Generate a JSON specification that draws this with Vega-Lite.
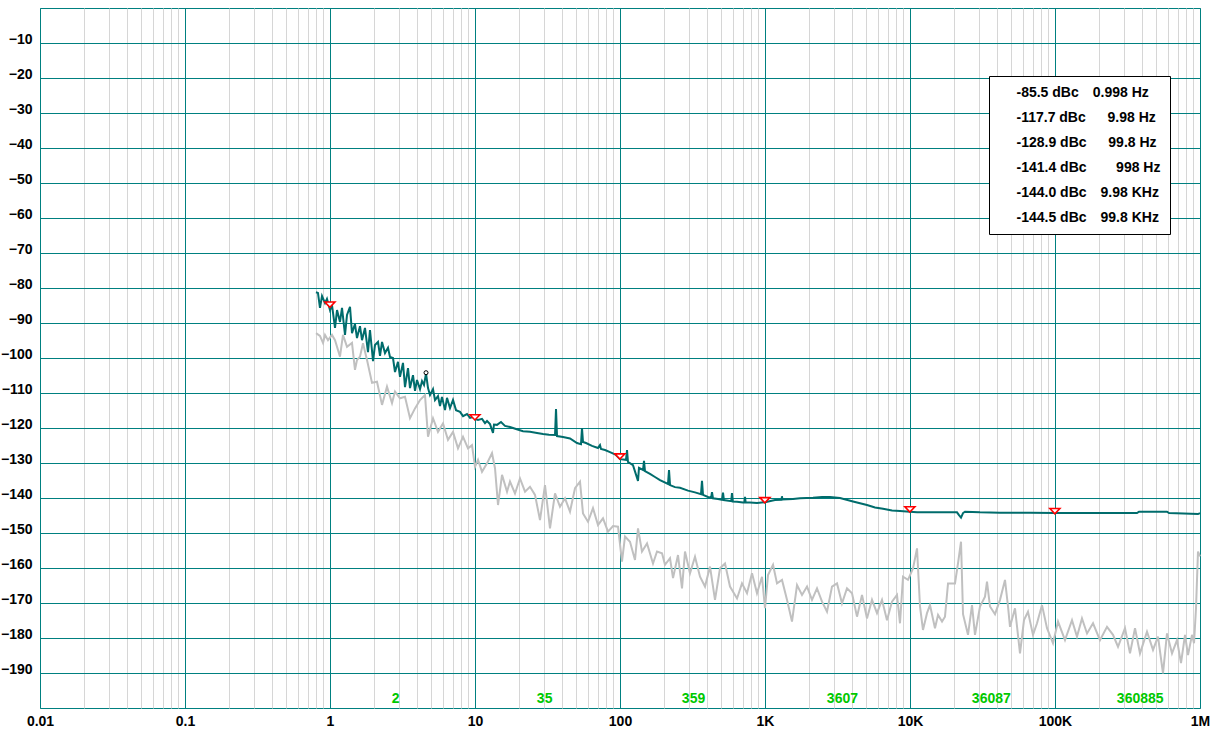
{
  "$schema": "https://vega.github.io/schema/vega-lite/v6.json",
  "width": 1160,
  "height": 700,
  "autosize": {"type": "none"},
  "padding": {"left": 40, "top": 8, "right": 16, "bottom": 23},
  "background": "white",
  "config": {
    "view": {"stroke": "#008080", "strokeWidth": 1},
    "font": "Liberation Sans",
    "legend": {"labelFont": "Liberation Sans"},
    "axisY": {
      "grid": true, "gridColor": "#008080", "gridWidth": 1, "gridOpacity": 1,
      "ticks": false, "tickSize": 0, "domain": false,
      "labelPadding": 8, "labelFont": "Liberation Sans", "labelFontSize": 14, "labelFontWeight": "bold", "labelColor": "black",
      "labelBaseline": "alphabetic", "labelOverlap": false
    }
  },
  "datasets": {
    "grey": [
      {"f":0.801,"db":-92.9},{"f":0.853,"db":-93.7},{"f":0.895,"db":-95.7},{"f":0.924,"db":-93.4},{"f":0.969,"db":-94.9},{"f":1.032,"db":-93.4},{"f":1.083,"db":-94.9},{"f":1.172,"db":-99.6},{"f":1.229,"db":-93.4},{"f":1.31,"db":-96.8},{"f":1.418,"db":-95.7},{"f":1.487,"db":-103.4},{"f":1.535,"db":-100.6},{"f":1.61,"db":-99.6},{"f":1.689,"db":-95.8},{"f":1.8,"db":-100.6},{"f":1.949,"db":-107.1},{"f":2.109,"db":-106.8},{"f":2.284,"db":-113.4},{"f":2.472,"db":-108.2},{"f":2.677,"db":-112.9},{"f":2.807,"db":-109.6},{"f":3.039,"db":-111.5},{"f":3.29,"db":-111.1},{"f":3.563,"db":-117.2},{"f":3.857,"db":-114.4},{"f":4.176,"db":-112.0},{"f":4.52,"db":-110.6},{"f":4.742,"db":-122.5},{"f":5.133,"db":-117.2},{"f":5.556,"db":-121.1},{"f":6.016,"db":-118.7},{"f":6.512,"db":-123.4},{"f":7.052,"db":-121.1},{"f":7.635,"db":-125.8},{"f":8.266,"db":-122.5},{"f":8.95,"db":-125.8},{"f":9.535,"db":-124.9},{"f":10,"db":-131.1},{"f":10.49,"db":-129.1},{"f":11.18,"db":-132.5},{"f":12.1,"db":-130.1},{"f":13.1,"db":-127.2},{"f":13.74,"db":-131.5},{"f":14.41,"db":-142.0},{"f":15.36,"db":-133.4},{"f":16.63,"db":-138.2},{"f":17.43,"db":-135.3},{"f":18.87,"db":-138.7},{"f":20.43,"db":-134.4},{"f":22.13,"db":-138.2},{"f":23.95,"db":-136.8},{"f":25.93,"db":-139.1},{"f":28.07,"db":-146.3},{"f":30.39,"db":-136.3},{"f":32.9,"db":-148.7},{"f":35.63,"db":-138.7},{"f":38.57,"db":-142.5},{"f":41.76,"db":-140.1},{"f":45.2,"db":-143.9},{"f":48.95,"db":-137.2},{"f":52.99,"db":-135.3},{"f":55.57,"db":-144.4},{"f":60.16,"db":-146.8},{"f":65.12,"db":-142.9},{"f":70.51,"db":-147.7},{"f":76.35,"db":-145.8},{"f":82.66,"db":-149.6},{"f":89.5,"db":-148.0},{"f":96.87,"db":-148.2},{"f":103.2,"db":-158.2},{"f":108.3,"db":-151.0},{"f":117.2,"db":-152.5},{"f":126.9,"db":-157.7},{"f":133.1,"db":-148.7},{"f":141.8,"db":-155.3},{"f":153.6,"db":-153.0},{"f":168.9,"db":-158.7},{"f":180,"db":-155.3},{"f":194.9,"db":-155.8},{"f":204.3,"db":-159.1},{"f":221.3,"db":-157.2},{"f":232.1,"db":-162.9},{"f":251.2,"db":-156.3},{"f":267.7,"db":-165.8},{"f":280.7,"db":-155.3},{"f":303.9,"db":-161.5},{"f":329,"db":-156.8},{"f":356.3,"db":-162.5},{"f":385.7,"db":-165.3},{"f":417.6,"db":-159.6},{"f":452,"db":-169.1},{"f":489.5,"db":-160.1},{"f":529.9,"db":-158.7},{"f":573.6,"db":-165.3},{"f":641.2,"db":-168.7},{"f":694,"db":-164.4},{"f":751.4,"db":-167.2},{"f":813.5,"db":-161.5},{"f":880.8,"db":-167.2},{"f":953.4,"db":-162.5},{"f":1000,"db":-171.5},{"f":1049,"db":-162.0},{"f":1136,"db":-159.1},{"f":1210,"db":-164.4},{"f":1310,"db":-163.4},{"f":1418,"db":-169.1},{"f":1535,"db":-175.3},{"f":1663,"db":-164.9},{"f":1800,"db":-167.7},{"f":1949,"db":-165.3},{"f":2109,"db":-169.1},{"f":2284,"db":-165.8},{"f":2473,"db":-169.6},{"f":2677,"db":-172.5},{"f":2898,"db":-165.3},{"f":3138,"db":-164.4},{"f":3396,"db":-170.1},{"f":3677,"db":-165.8},{"f":3981,"db":-167.2},{"f":4310,"db":-173.9},{"f":4667,"db":-167.7},{"f":5051,"db":-174.4},{"f":5469,"db":-169.1},{"f":5921,"db":-172.9},{"f":6411,"db":-169.1},{"f":6940,"db":-174.9},{"f":7515,"db":-169.6},{"f":8135,"db":-167.7},{"f":8531,"db":-175.8},{"f":8949,"db":-162.5},{"f":9687,"db":-163.4},{"f":10490,"db":-160.1},{"f":11180,"db":-154.4},{"f":11720,"db":-171.0},{"f":12290,"db":-177.7},{"f":13100,"db":-172.9},{"f":13740,"db":-170.6},{"f":14870,"db":-177.2},{"f":15610,"db":-173.4},{"f":16630,"db":-175.3},{"f":17430,"db":-173.9},{"f":18290,"db":-164.4},{"f":20430,"db":-164.4},{"f":21430,"db":-158.7},{"f":22480,"db":-152.5},{"f":23210,"db":-173.2},{"f":25120,"db":-179.1},{"f":26770,"db":-170.6},{"f":28070,"db":-179.1},{"f":30390,"db":-171.0},{"f":32900,"db":-168.2},{"f":33960,"db":-163.9},{"f":35630,"db":-171.0},{"f":38570,"db":-173.2},{"f":41760,"db":-169.1},{"f":45200,"db":-163.4},{"f":47420,"db":-171.0},{"f":48950,"db":-176.8},{"f":52990,"db":-171.5},{"f":57360,"db":-184.4},{"f":61120,"db":-174.9},{"f":65120,"db":-172.5},{"f":70510,"db":-179.1},{"f":75150,"db":-175.8},{"f":81350,"db":-170.6},{"f":88080,"db":-177.2},{"f":96870,"db":-181.5},{"f":104900,"db":-175.3},{"f":117200,"db":-180.6},{"f":131000,"db":-174.9},{"f":141800,"db":-179.6},{"f":153500,"db":-174.4},{"f":166300,"db":-178.7},{"f":182900,"db":-175.8},{"f":204300,"db":-180.6},{"f":228400,"db":-176.8},{"f":251200,"db":-179.1},{"f":272000,"db":-182.5},{"f":303900,"db":-177.2},{"f":329000,"db":-184.4},{"f":356300,"db":-177.2},{"f":385700,"db":-184.4},{"f":431000,"db":-178.2},{"f":474200,"db":-183.4},{"f":513300,"db":-179.6},{"f":555700,"db":-190.1},{"f":592100,"db":-178.7},{"f":641200,"db":-184.4},{"f":694000,"db":-180.6},{"f":739600,"db":-187.2},{"f":788200,"db":-179.1},{"f":826600,"db":-184.9},{"f":880800,"db":-179.1},{"f":909400,"db":-181.5},{"f":938500,"db":-171.5},{"f":968700,"db":-155.3},{"f":1000000,"db":-156.7}
    ],
    "teal": [
      {"f":0.8,"db":-81.2},{"f":0.826,"db":-81.4},{"f":0.853,"db":-85.7},{"f":0.881,"db":-82.3},{"f":0.924,"db":-84.3},{"f":0.953,"db":-83.1},{"f":1.0,"db":-86.3},{"f":1.032,"db":-84.9},{"f":1.083,"db":-91.4},{"f":1.118,"db":-86.3},{"f":1.172,"db":-89.7},{"f":1.21,"db":-85.7},{"f":1.269,"db":-93.4},{"f":1.31,"db":-87.7},{"f":1.374,"db":-85.4},{"f":1.418,"db":-92.9},{"f":1.487,"db":-90.3},{"f":1.535,"db":-94.3},{"f":1.61,"db":-90.9},{"f":1.663,"db":-94.9},{"f":1.743,"db":-91.4},{"f":1.828,"db":-98.3},{"f":1.887,"db":-92.0},{"f":1.98,"db":-100.9},{"f":2.043,"db":-96.3},{"f":2.143,"db":-95.4},{"f":2.213,"db":-99.4},{"f":2.284,"db":-95.4},{"f":2.395,"db":-98.6},{"f":2.512,"db":-97.1},{"f":2.593,"db":-99.7},{"f":2.719,"db":-100.0},{"f":2.807,"db":-104.0},{"f":2.944,"db":-101.1},{"f":3.039,"db":-105.4},{"f":3.187,"db":-101.4},{"f":3.29,"db":-108.3},{"f":3.451,"db":-102.9},{"f":3.563,"db":-108.6},{"f":3.736,"db":-104.9},{"f":3.857,"db":-109.4},{"f":3.981,"db":-106.3},{"f":4.176,"db":-108.9},{"f":4.311,"db":-106.6},{"f":4.45,"db":-107.7},{"f":4.594,"db":-104.4},{"f":4.742,"db":-108.6},{"f":4.895,"db":-110.6},{"f":5.133,"db":-108.9},{"f":5.299,"db":-112.0},{"f":5.556,"db":-110.9},{"f":5.736,"db":-113.7},{"f":5.921,"db":-111.1},{"f":6.21,"db":-114.9},{"f":6.411,"db":-111.4},{"f":6.724,"db":-114.3},{"f":7.052,"db":-112.0},{"f":7.396,"db":-114.9},{"f":7.884,"db":-115.4},{"f":8.266,"db":-116.6},{"f":8.808,"db":-116.0},{"f":9.237,"db":-117.1},{"f":9.687,"db":-116.9},{"f":10,"db":-117.4},{"f":10.49,"db":-117.7},{"f":11.18,"db":-117.4},{"f":11.72,"db":-118.6},{"f":12.1,"db":-118.0},{"f":12.69,"db":-118.9},{"f":13.31,"db":-121.4},{"f":13.52,"db":-119.0},{"f":14.18,"db":-119.1},{"f":15.11,"db":-118.3},{"f":16.1,"db":-119.4},{"f":17.43,"db":-119.7},{"f":19.18,"db":-120.3},{"f":21.43,"db":-120.9},{"f":23.95,"db":-121.1},{"f":26.77,"db":-121.4},{"f":29.44,"db":-121.7},{"f":32.39,"db":-121.9},{"f":35.63,"db":-122.0},{"f":36.2,"db":-114.6},{"f":36.78,"db":-122.3},{"f":40.46,"db":-122.6},{"f":45.2,"db":-123.0},{"f":50.51,"db":-124.3},{"f":53.83,"db":-124.6},{"f":54.69,"db":-120.0},{"f":55.57,"db":-124.0},{"f":58.28,"db":-124.3},{"f":64.12,"db":-125.1},{"f":70.51,"db":-125.7},{"f":72.79,"db":-124.9},{"f":73.96,"db":-126.0},{"f":78.84,"db":-126.3},{"f":85.31,"db":-126.9},{"f":93.85,"db":-127.7},{"f":100,"db":-128.9},{"f":110,"db":-129.1},{"f":111.8,"db":-126.3},{"f":113.5,"db":-129.7},{"f":122.9,"db":-130.6},{"f":133.1,"db":-135.1},{"f":135.2,"db":-131.4},{"f":144.1,"db":-132.0},{"f":146.4,"db":-129.4},{"f":148.7,"db":-132.3},{"f":161,"db":-133.1},{"f":174.3,"db":-134.0},{"f":188.7,"db":-134.9},{"f":214.3,"db":-136.0},{"f":217.8,"db":-132.0},{"f":221.3,"db":-136.3},{"f":239.5,"db":-136.9},{"f":259.3,"db":-137.1},{"f":294.4,"db":-137.9},{"f":329,"db":-138.4},{"f":361.9,"db":-138.9},{"f":367.7,"db":-135.1},{"f":373.6,"db":-139.1},{"f":404.6,"db":-139.7},{"f":425,"db":-139.9},{"f":431,"db":-138.3},{"f":437.8,"db":-140.1},{"f":474.2,"db":-140.3},{"f":505,"db":-140.5},{"f":513.3,"db":-138.5},{"f":521,"db":-140.6},{"f":585,"db":-140.9},{"f":592,"db":-138.6},{"f":600,"db":-141.0},{"f":641.2,"db":-141.1},{"f":705.1,"db":-141.3},{"f":720,"db":-141.3},{"f":728,"db":-139.7},{"f":736,"db":-141.3},{"f":788.2,"db":-141.3},{"f":880.8,"db":-141.4},{"f":1000,"db":-141.2},{"f":1172,"db":-140.6},{"f":1300,"db":-140.5},{"f":1309,"db":-139.5},{"f":1318,"db":-140.4},{"f":1561,"db":-140.3},{"f":1743,"db":-140.1},{"f":2143,"db":-139.9},{"f":2473,"db":-139.7},{"f":2807,"db":-139.7},{"f":3290,"db":-140.0},{"f":4046,"db":-141.0},{"f":5051,"db":-142.0},{"f":5736,"db":-142.7},{"f":6512,"db":-143.1},{"f":7515,"db":-143.6},{"f":8531,"db":-143.7},{"f":10000,"db":-143.9},{"f":11180,"db":-144.1},{"f":13740,"db":-144.1},{"f":17430,"db":-144.1},{"f":21090,"db":-144.1},{"f":21780,"db":-144.9},{"f":22480,"db":-145.6},{"f":23210,"db":-144.3},{"f":23950,"db":-143.9},{"f":30390,"db":-144.1},{"f":41760,"db":-144.2},{"f":67240,"db":-144.2},{"f":100000,"db":-144.3},{"f":174300,"db":-144.3},{"f":367700,"db":-144.3},{"f":379600,"db":-143.9},{"f":592100,"db":-143.9},{"f":611200,"db":-144.3},{"f":968700,"db":-144.6},{"f":1000000,"db":-144.3}
    ],
    "markers": [
      {"f":0.998,"db":-85.5,"readout":"-85.5 dBc|0.998 Hz"},
      {"f":9.98,"db":-117.7,"readout":"-117.7 dBc|9.98 Hz"},
      {"f":99.8,"db":-128.9,"readout":"-128.9 dBc|99.8 Hz"},
      {"f":998,"db":-141.4,"readout":"-141.4 dBc|998 Hz"},
      {"f":9980,"db":-144.0,"readout":"-144.0 dBc|9.98 KHz"},
      {"f":99800,"db":-144.5,"readout":"-144.5 dBc|99.8 KHz"}
    ],
    "dot": [{"f":4.594,"db":-104.2}]
  },
  "resolve": {"axis": {"x": "independent"}},
  "layer": [
    {
      "data": {"name": "grey"},
      "mark": {"type": "line", "color": "#c0c0c0", "strokeWidth": 2},
      "encoding": {
        "x": {"field": "f", "type": "quantitative",
          "scale": {"type": "log", "domain": [0.01, 1000000], "nice": false},
          "axis": {
            "orient": "bottom", "title": null, "grid": true, "labels": false,
            "values": [0.02,0.03,0.04,0.05,0.06,0.07,0.08,0.09,0.2,0.3,0.4,0.5,0.6,0.7,0.8,0.9,2,3,4,5,6,7,8,9,20,30,40,50,60,70,80,90,200,300,400,500,600,700,800,900,2000,3000,4000,5000,6000,7000,8000,9000,20000,30000,40000,50000,60000,70000,80000,90000,200000,300000,400000,500000,600000,700000,800000,900000],
            "gridColor": "#d6d6d6", "gridWidth": 1, "gridOpacity": 1,
            "ticks": false, "tickSize": 0, "domain": false
          }
        },
        "y": {"field": "db", "type": "quantitative", "title": null,
          "scale": {"domain": [-200, 0], "nice": false, "zero": false},
          "axis": {"values": [-10,-20,-30,-40,-50,-60,-70,-80,-90,-100,-110,-120,-130,-140,-150,-160,-170,-180,-190]}
        }
      }
    },
    {
      "data": {"name": "teal"},
      "mark": {"type": "line", "color": "#006c6c", "strokeWidth": 2},
      "encoding": {
        "x": {"field": "f", "type": "quantitative",
          "scale": {"type": "log", "domain": [0.01, 1000000], "nice": false},
          "axis": {
            "orient": "bottom", "title": null, "grid": true,
            "values": [0.01,0.1,1,10,100,1000,10000,100000,1000000],
            "gridColor": "#008080", "gridWidth": 1, "gridOpacity": 1,
            "ticks": false, "tickSize": 0, "domain": false,
            "labelPadding": 6, "labelFont": "Liberation Sans", "labelFontSize": 14, "labelFontWeight": "bold", "labelColor": "black",
            "labelOverlap": false, "labelFlush": false,
            "labelExpr": "datum.value == 0.01 ? '0.01' : datum.value == 0.1 ? '0.1' : datum.value == 1 ? '1' : datum.value == 10 ? '10' : datum.value == 100 ? '100' : datum.value == 1000 ? '1K' : datum.value == 10000 ? '10K' : datum.value == 100000 ? '100K' : '1M'"
          }
        },
        "y": {"field": "db", "type": "quantitative", "title": null,
          "scale": {"domain": [-200, 0], "nice": false, "zero": false},
          "axis": {"values": [-10,-20,-30,-40,-50,-60,-70,-80,-90,-100,-110,-120,-130,-140,-150,-160,-170,-180,-190]}
        }
      }
    },
    {
      "data": {"name": "markers"},
      "mark": {"type": "point", "filled": true, "fill": "white", "stroke": "#ff0000", "strokeWidth": 1.6, "size": 100, "opacity": 1},
      "encoding": {
        "x": {"field": "f", "type": "quantitative", "scale": {"type": "log", "domain": [0.01, 1000000], "nice": false},
          "axis": {
            "orient": "top", "offset": -690, "title": null, "grid": false,
            "values": [2.65, 26.5, 265, 2650, 26500, 265000],
            "ticks": false, "tickSize": 0, "domain": false,
            "labelPadding": 0, "labelAlign": "left", "labelBaseline": "middle",
            "labelFont": "Liberation Sans", "labelFontSize": 14, "labelFontWeight": "bold", "labelColor": "#00c800",
            "labelOverlap": false, "labelFlush": false,
            "labelExpr": "['2','35','359','3607','36087','360885'][indexof([2.65,26.5,265,2650,26500,265000], datum.value)]"
          }
        },
        "y": {"field": "db", "type": "quantitative", "title": null,
          "scale": {"domain": [-200, 0], "nice": false, "zero": false},
          "axis": {"values": [-10,-20,-30,-40,-50,-60,-70,-80,-90,-100,-110,-120,-130,-140,-150,-160,-170,-180,-190]}
        },
        "shape": {"field": "readout", "type": "nominal", "sort": null,
          "scale": {"range": ["M-1,-1.05L1,-1.05L0,0Z","M-1,-1.05L1,-1.05L0,0Z","M-1,-1.05L1,-1.05L0,0Z","M-1,-1.05L1,-1.05L0,0Z","M-1,-1.05L1,-1.05L0,0Z","M-1,-1.05L1,-1.05L0,0Z"]},
          "legend": {
            "orient": "none", "legendX": 949, "legendY": 68, "title": null,
            "padding": 9.5, "strokeColor": "black", "fillColor": "white",
            "symbolSize": 1, "symbolOpacity": 0, "symbolStrokeWidth": 0,
            "labelFont": "Liberation Sans", "labelFontSize": 14, "labelFontWeight": "bold", "labelColor": "black",
            "labelOffset": 4, "rowPadding": 11, "labelLimit": 400,
            "labelExpr": "pad(split(datum.label,'|')[0], 10, '\u2007', 'left') + '\u2003' + pad(split(datum.label,'|')[1], 8, '\u2007', 'left') + '\u2005'"
          }
        }
      }
    },
    {
      "data": {"name": "dot"},
      "mark": {"type": "point", "shape": "circle", "filled": true, "fill": "white", "stroke": "black", "strokeWidth": 1, "size": 16, "opacity": 1},
      "encoding": {
        "x": {"field": "f", "type": "quantitative", "scale": {"type": "log", "domain": [0.01, 1000000], "nice": false}, "axis": null},
        "y": {"field": "db", "type": "quantitative", "title": null,
          "scale": {"domain": [-200, 0], "nice": false, "zero": false},
          "axis": {"values": [-10,-20,-30,-40,-50,-60,-70,-80,-90,-100,-110,-120,-130,-140,-150,-160,-170,-180,-190]}
        }
      }
    }
  ]
}
